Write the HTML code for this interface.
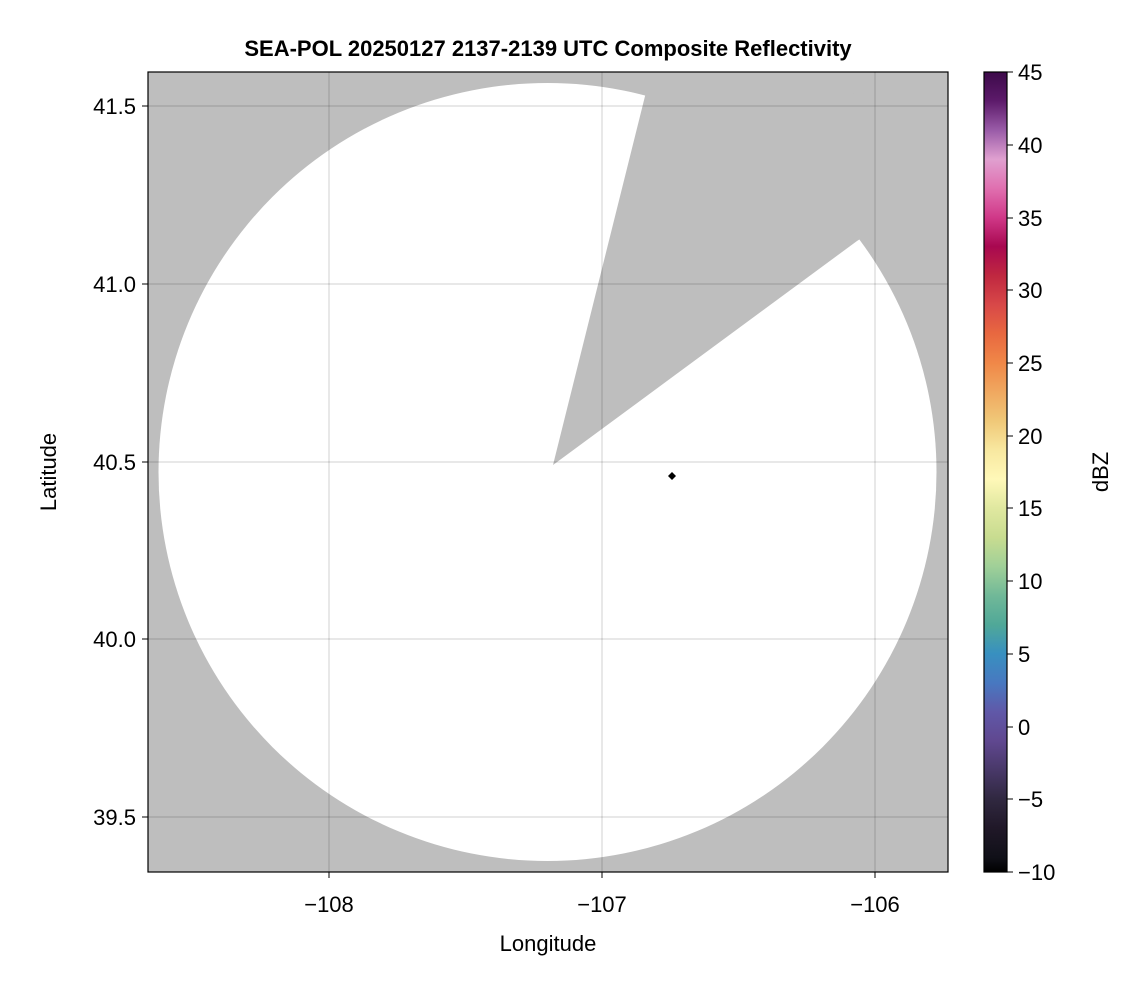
<!DOCTYPE html>
<html><head><meta charset="utf-8"><style>
body{margin:0;background:#fff;width:1146px;height:990px;overflow:hidden;font-family:"Liberation Sans",sans-serif}
</style></head><body>
<svg width="1146" height="990" xmlns="http://www.w3.org/2000/svg" font-family="Liberation Sans, sans-serif">
<defs>
<clipPath id="pa"><rect x="148" y="72" width="800" height="800"/></clipPath>
<linearGradient id="cb" x1="0" y1="0" x2="0" y2="1">
<stop offset="0" stop-color="#3d0a4a"/><stop offset="0.036" stop-color="#5c1a6a"/><stop offset="0.073" stop-color="#9a5ca8"/>
<stop offset="0.109" stop-color="#e0a0d0"/><stop offset="0.145" stop-color="#e070b0"/><stop offset="0.182" stop-color="#d03888"/>
<stop offset="0.218" stop-color="#a80850"/><stop offset="0.255" stop-color="#c02840"/><stop offset="0.291" stop-color="#d84848"/>
<stop offset="0.327" stop-color="#e86840"/><stop offset="0.364" stop-color="#f08848"/><stop offset="0.4" stop-color="#f0a860"/>
<stop offset="0.436" stop-color="#f0c878"/><stop offset="0.473" stop-color="#f8e8a0"/><stop offset="0.509" stop-color="#fff8b8"/>
<stop offset="0.545" stop-color="#e0e8a0"/><stop offset="0.582" stop-color="#c8dc90"/><stop offset="0.618" stop-color="#a0d098"/>
<stop offset="0.655" stop-color="#70b898"/><stop offset="0.691" stop-color="#50a898"/><stop offset="0.727" stop-color="#3890c0"/>
<stop offset="0.764" stop-color="#4878c0"/><stop offset="0.8" stop-color="#6058a8"/><stop offset="0.836" stop-color="#604890"/>
<stop offset="0.873" stop-color="#483868"/><stop offset="0.909" stop-color="#302840"/><stop offset="0.945" stop-color="#201828"/>
<stop offset="0.982" stop-color="#101018"/><stop offset="1" stop-color="#000"/>
</linearGradient>
</defs>
<g clip-path="url(#pa)">
<rect x="148" y="72" width="800" height="800" fill="#bebebe"/>
<circle cx="547.5" cy="472" r="389" fill="#fff"/>
<polygon points="553,465 664,20 1000,150 857,241" fill="#bebebe"/>
<g stroke="#000" stroke-opacity="0.12" stroke-width="1.5">
<line x1="329" y1="72" x2="329" y2="872"/><line x1="602" y1="72" x2="602" y2="872"/><line x1="875" y1="72" x2="875" y2="872"/>
<line x1="148" y1="106" x2="948" y2="106"/><line x1="148" y1="284" x2="948" y2="284"/><line x1="148" y1="462" x2="948" y2="462"/>
<line x1="148" y1="639" x2="948" y2="639"/><line x1="148" y1="817" x2="948" y2="817"/>
</g>
<polygon points="672,472 676,476 672,480 668,476" fill="#000"/>
</g>
<rect x="148" y="72" width="800" height="800" fill="none" stroke="#000" stroke-width="1.2"/>
<g stroke="#000" stroke-width="1">
<line x1="329" y1="872" x2="329" y2="878"/><line x1="602" y1="872" x2="602" y2="878"/><line x1="875" y1="872" x2="875" y2="878"/>
<line x1="142" y1="106" x2="148" y2="106"/><line x1="142" y1="284" x2="148" y2="284"/><line x1="142" y1="462" x2="148" y2="462"/>
<line x1="142" y1="639" x2="148" y2="639"/><line x1="142" y1="817" x2="148" y2="817"/>
</g>
<g font-size="22" fill="#000" text-anchor="middle">
<text x="329" y="912">−108</text><text x="602" y="912">−107</text><text x="875" y="912">−106</text>
<text x="548" y="951">Longitude</text>
</g>
<g font-size="22" fill="#000" text-anchor="end">
<text x="136" y="114">41.5</text><text x="136" y="292">41.0</text><text x="136" y="470">40.5</text>
<text x="136" y="647">40.0</text><text x="136" y="825">39.5</text>
</g>
<text transform="translate(56,472) rotate(-90)" font-size="22" text-anchor="middle">Latitude</text>
<text x="548" y="56" font-size="22" font-weight="bold" text-anchor="middle">SEA-POL 20250127 2137-2139 UTC Composite Reflectivity</text>
<rect x="984" y="72" width="23" height="800" fill="url(#cb)" stroke="#000" stroke-width="1.2"/>
<g stroke="#000" stroke-width="1">
<line x1="1007" y1="72" x2="1013" y2="72"/><line x1="1007" y1="145" x2="1013" y2="145"/><line x1="1007" y1="218" x2="1013" y2="218"/>
<line x1="1007" y1="290" x2="1013" y2="290"/><line x1="1007" y1="363" x2="1013" y2="363"/><line x1="1007" y1="436" x2="1013" y2="436"/>
<line x1="1007" y1="508" x2="1013" y2="508"/><line x1="1007" y1="581" x2="1013" y2="581"/><line x1="1007" y1="654" x2="1013" y2="654"/>
<line x1="1007" y1="727" x2="1013" y2="727"/><line x1="1007" y1="799" x2="1013" y2="799"/><line x1="1007" y1="872" x2="1013" y2="872"/>
</g>
<g font-size="22" fill="#000">
<text x="1018" y="80">45</text><text x="1018" y="153">40</text><text x="1018" y="226">35</text><text x="1018" y="298">30</text>
<text x="1018" y="371">25</text><text x="1018" y="444">20</text><text x="1018" y="516">15</text><text x="1018" y="589">10</text>
<text x="1018" y="662">5</text><text x="1018" y="735">0</text><text x="1018" y="807">−5</text><text x="1018" y="880">−10</text>
</g>
<text transform="translate(1108,472) rotate(-90)" font-size="22" text-anchor="middle">dBZ</text>
</svg>
</body></html>
